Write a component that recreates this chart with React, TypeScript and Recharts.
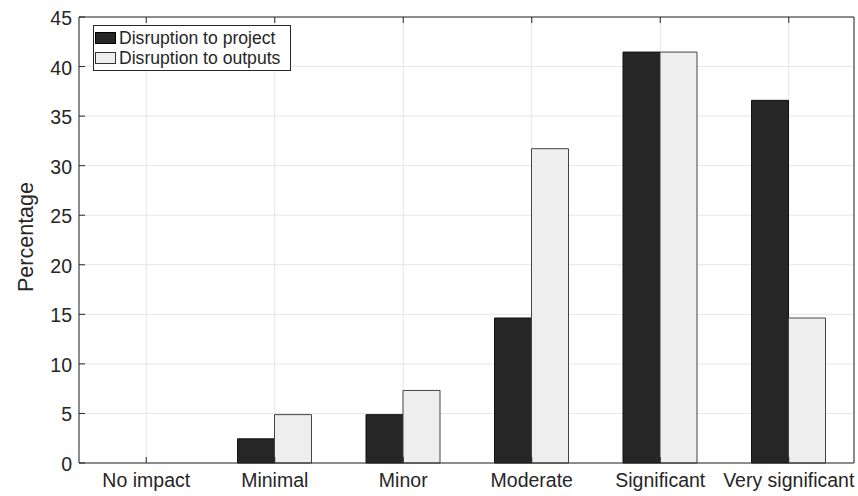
import { BarChart, Bar, XAxis, YAxis, CartesianGrid, Legend } from 'recharts';

const categories = ['No impact', 'Minimal', 'Minor', 'Moderate', 'Significant', 'Very significant'];
const projectDisruption = [0, 2.44, 4.88, 14.63, 41.46, 36.59];
const outputsDisruption = [0, 4.88, 7.32, 31.71, 41.46, 14.63];
const yTicks = [0, 5, 10, 15, 20, 25, 30, 35, 40, 45];

const data = categories.map((name, i) => ({
  name,
  project: projectDisruption[i],
  outputs: outputsDisruption[i],
}));

const FONT = '"Liberation Sans", Arial, Helvetica, sans-serif';
const INK = '#262626';
const TICK_LEN = 6; // matlab style: ticks point into the plot

function LeftTick({ x, y, payload }: any) {
  const ax = x + 7;
  return (
    <g>
      <line x1={ax} x2={ax + TICK_LEN} y1={y} y2={y} stroke={INK} />
      <text x={x} y={y} dy={8} textAnchor="end" fontSize={19.5} fill={INK} fontFamily={FONT}>
        {payload.value}
      </text>
    </g>
  );
}

function RightTick({ x, y }: any) {
  return <line x1={x - TICK_LEN} x2={x} y1={y} y2={y} stroke={INK} />;
}

function BottomTick({ x, y, payload }: any) {
  return (
    <g>
      <line x1={x} x2={x} y1={y} y2={y - TICK_LEN} stroke={INK} />
      <text x={x} y={y} dy={24} textAnchor="middle" fontSize={19.5} fill={INK} fontFamily={FONT}>
        {payload.value}
      </text>
    </g>
  );
}

function TopTick({ x, y }: any) {
  return <line x1={x} x2={x} y1={y} y2={y + TICK_LEN} stroke={INK} />;
}

function LegendBox() {
  const items = [
    { label: 'Disruption to project', fill: '#262626', edge: '#000' },
    { label: 'Disruption to outputs', fill: '#eeeeee', edge: '#333' },
  ];
  return (
    <div
      style={{
        boxSizing: 'border-box',
        width: 198,
        height: 46,
        border: `1px solid ${INK}`,
        background: '#fff',
        padding: '2px 0 2px 1px',
        fontFamily: FONT,
        fontSize: 17.6,
        color: INK,
      }}
    >
      {items.map((it) => (
        <div key={it.label} style={{ display: 'flex', alignItems: 'center', height: 20, whiteSpace: 'nowrap' }}>
          <span
            style={{
              boxSizing: 'border-box',
              display: 'inline-block',
              width: 21,
              height: 12,
              background: it.fill,
              border: `1px solid ${it.edge}`,
              marginRight: 3,
            }}
          />
          {it.label}
        </div>
      ))}
    </div>
  );
}

export default function App() {
  return (
    <div style={{ position: 'absolute', left: 0, top: 0, background: '#fff' }}>
      <BarChart
        width={858}
        height={496}
        data={data}
        margin={{ top: 0, right: 0, bottom: 0, left: 0 }}
        barGap={0}
        barSize={37}
      >
        <CartesianGrid stroke="#e6e6e6" />
        <XAxis
          dataKey="name"
          height={33}
          interval={0}
          padding={{ left: 3, right: 1 }}
          tickSize={0}
          tickMargin={0}
          tick={<BottomTick />}
          axisLine={{ stroke: INK }}
        />
        <XAxis
          xAxisId="top"
          dataKey="name"
          orientation="top"
          height={17}
          interval={0}
          padding={{ left: 3, right: 1 }}
          tickSize={0}
          tickMargin={0}
          tick={<TopTick />}
          axisLine={{ stroke: INK }}
        />
        <YAxis
          width={79}
          domain={[0, 45]}
          ticks={yTicks}
          interval={0}
          tickSize={0}
          tickMargin={7}
          tick={<LeftTick />}
          axisLine={{ stroke: INK }}
          label={({ viewBox }: any) => {
            const cx = viewBox.x + 33;
            const cy = viewBox.y + viewBox.height / 2 - 3;
            return (
              <text
                x={cx}
                y={cy}
                textAnchor="middle"
                transform={`rotate(-90, ${cx}, ${cy})`}
                fontSize={21.5}
                fill={INK}
                fontFamily={FONT}
              >
                Percentage
              </text>
            );
          }}
        />
        <YAxis
          yAxisId="right"
          orientation="right"
          width={4}
          domain={[0, 45]}
          ticks={yTicks}
          interval={0}
          tickSize={0}
          tickMargin={0}
          tick={<RightTick />}
          axisLine={{ stroke: INK }}
        />
        <Legend
          layout="vertical"
          align="center"
          verticalAlign="middle"
          wrapperStyle={{ left: 93, top: 25, width: 198, height: 46 }}
          content={() => <LegendBox />}
        />
        <Bar dataKey="project" name="Disruption to project" fill="#262626" stroke="#111" isAnimationActive={false} />
        <Bar dataKey="outputs" name="Disruption to outputs" fill="#eeeeee" stroke="#444" isAnimationActive={false} />
      </BarChart>
    </div>
  );
}
